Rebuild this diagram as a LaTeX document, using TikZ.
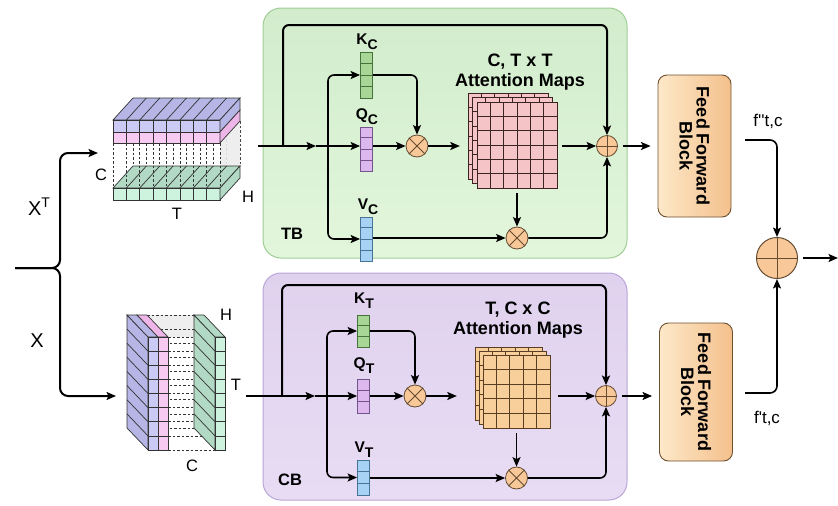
\documentclass[tikz,border=0pt]{standalone}
\usepackage{fontspec}
\setmainfont{Liberation Sans}
\usetikzlibrary{arrows.meta,calc}
\definecolor{pgT}{RGB}{210,236,204}
\definecolor{pgB}{RGB}{226,246,220}
\definecolor{pgD}{RGB}{160,205,150}
\definecolor{ppT}{RGB}{224,210,238}
\definecolor{ppB}{RGB}{232,220,244}
\definecolor{ppD}{RGB}{185,165,215}
\definecolor{kf}{RGB}{168,214,150}
\definecolor{kd}{RGB}{70,115,60}
\definecolor{qf}{RGB}{220,184,238}
\definecolor{qd}{RGB}{115,85,140}
\definecolor{vf}{RGB}{168,210,243}
\definecolor{vd}{RGB}{70,115,150}
\definecolor{cf}{RGB}{248,200,152}
\definecolor{cd}{RGB}{100,75,50}
\definecolor{pinkg}{RGB}{244,196,198}
\definecolor{pinkl}{RGB}{60,35,35}
\definecolor{orag}{RGB}{248,207,154}
\definecolor{oral}{RGB}{90,62,36}
\definecolor{ffL}{RGB}{253,232,200}
\definecolor{ffR}{RGB}{244,192,140}
\definecolor{ffD}{RGB}{110,80,48}
\definecolor{lavF}{RGB}{202,202,245}
\definecolor{lavT}{RGB}{182,182,230}
\definecolor{pnkF}{RGB}{247,202,242}
\definecolor{pnkT}{RGB}{238,182,232}
\definecolor{grnF}{RGB}{205,243,222}
\definecolor{grnT}{RGB}{178,217,196}
\definecolor{gryP}{RGB}{236,236,236}
\definecolor{edge}{RGB}{50,50,50}
\newcommand{\vcells}[3]{%
  \foreach \k in {1,...,#2}{%
    \draw[#3] ($(#1.north west)!{\k/(#2+1)}!(#1.south west)$) -- ($(#1.north east)!{\k/(#2+1)}!(#1.south east)$);}}
\newcommand{\sublab}[2]{#1\raisebox{-5pt}{\fontsize{14}{14}\selectfont\bfseries #2}}
\begin{document}
\begin{tikzpicture}[x=1pt,y=-1pt,
  ln/.style={line width=1.6pt, draw=black},
  arr/.style={ln, -{Stealth[length=9.5pt,width=8pt,inset=2pt]}},
  loopl/.style={arr, line width=2pt, rounded corners=6pt},
  vec/.style={rectangle, inner sep=0pt, minimum width=12pt, line width=0.8pt},
  opc/.style={circle, draw=cd, fill=cf, minimum size=22pt, inner sep=0pt, line width=0.8pt},
  crs/.style={draw=cd, line width=0.9pt},
  lab/.style={font=\fontsize{15.5}{15.5}\selectfont\bfseries, inner sep=0pt},
  big/.style={font=\fontsize{18}{20}\selectfont\bfseries, align=center, inner sep=0pt},
  dim/.style={font=\fontsize{16.5}{16.5}\selectfont, inner sep=0pt},
  ffbox/.style={rectangle, rounded corners=9pt, draw=ffD, line width=0.9pt, left color=ffL, right color=ffR, minimum width=73pt},
  fftext/.style={font=\fontsize{18}{17}\selectfont\bfseries, align=center, rotate=-90, inner sep=0pt},
  sl/.style={draw=edge, line width=0.7pt},
  dsh/.style={draw=black!80, dashed, dash pattern=on 2.5pt off 2pt, line width=0.7pt}
]
\useasboundingbox (0,0) rectangle (838,506);

% ---------- panels ----------
\draw[rounded corners=18pt, draw=pgD, line width=1pt, top color=pgT, bottom color=pgB] (263,8) rectangle (627,258);
\draw[rounded corners=18pt, draw=ppD, line width=1pt, top color=ppT, bottom color=ppB] (263,273) rectangle (627,500);

% ---------- 3D block X^T ----------
\foreach \k in {0,...,8} \draw[dsh] (133+\k*13.375,121) -- (133+\k*13.375,166);
\fill[gryP, opacity=0.9] (220,143) -- (240,121) -- (240,166) -- (220,188) -- cycle;
% green slab
\filldraw[sl, fill=grnT] (113,188) -- (220,188) -- (240,166) -- (133,166) -- cycle;
\foreach \k in {1,...,7} \draw[sl] (113+\k*13.375,188) -- (133+\k*13.375,166);
\filldraw[sl, fill=grnF] (113,188) rectangle (220,200);
\foreach \k in {1,...,7} \draw[sl] (113+\k*13.375,188) -- (113+\k*13.375,200);
\filldraw[sl, fill=grnT] (220,188) -- (240,166) -- (240,178) -- (220,200) -- cycle;
\foreach \k in {0,...,8} \draw[dsh] (113+\k*13.375,143) -- (113+\k*13.375,188);
% purple + pink slabs
\filldraw[sl, fill=lavT] (113,120) -- (220,120) -- (240,98) -- (133,98) -- cycle;
\foreach \k in {1,...,7} \draw[sl] (113+\k*13.375,120) -- (133+\k*13.375,98);
\filldraw[sl, fill=lavF] (113,120) rectangle (220,132);
\filldraw[sl, fill=pnkF] (113,132) rectangle (220,143);
\foreach \k in {1,...,7} \draw[sl] (113+\k*13.375,120) -- (113+\k*13.375,143);
\filldraw[sl, fill=lavT] (220,120) -- (240,98) -- (240,110) -- (220,132) -- cycle;
\filldraw[sl, fill=pnkT] (220,132) -- (240,110) -- (240,121) -- (220,143) -- cycle;
\node[dim] (lc1) at (101,175) {C};
\node[dim] (lh1) at (248,197) {H};
\node[dim] (lt1) at (177,214) {T};

% ---------- 3D block X ----------
\fill[gryP, opacity=0.9] (147,315) -- (194,315) -- (215,337) -- (168,337) -- cycle;
\foreach \k in {0,...,8} \draw[dsh] (147,315+\k*14.125) -- (194,315+\k*14.125);
\foreach \k in {0,...,8} \draw[dsh] (168,337+\k*14.125) -- (215,337+\k*14.125);
% purple / pink
\filldraw[sl, fill=lavT] (148,337) -- (127,315) -- (127,428) -- (148,450) -- cycle;
\foreach \k in {1,...,7} \draw[sl] (148,337+\k*14.125) -- (127,315+\k*14.125);
\filldraw[sl, fill=lavT] (148,337) -- (158,337) -- (137,315) -- (127,315) -- cycle;
\filldraw[sl, fill=pnkT] (158,337) -- (168,337) -- (147,315) -- (137,315) -- cycle;
\filldraw[sl, fill=lavF] (148,337) rectangle (158,450);
\filldraw[sl, fill=pnkF] (158,337) rectangle (168,450);
\foreach \k in {1,...,7} \draw[sl] (148,337+\k*14.125) -- (168,337+\k*14.125);
% green
\filldraw[sl, fill=grnT] (215,337) -- (194,315) -- (194,428) -- (215,450) -- cycle;
\foreach \k in {1,...,7} \draw[sl] (215,337+\k*14.125) -- (194,315+\k*14.125);
\filldraw[sl, fill=grnT] (215,337) -- (225,337) -- (204,315) -- (194,315) -- cycle;
\filldraw[sl, fill=grnF] (215,337) rectangle (225,450);
\foreach \k in {1,...,7} \draw[sl] (215,337+\k*14.125) -- (225,337+\k*14.125);
\node[dim] (lh2) at (226,315) {H};
\node[dim] (lt2) at (236,385) {T};
\node[dim] (lc2) at (192,466) {C};

% ---------- input brace ----------
\coordinate (inL) at (15,268);
\coordinate (brc) at (60,268);
\coordinate (blk1in) at (98,153);
\coordinate (blk2in) at (116,396);
\draw[arr, line width=2pt, rounded corners=8pt] (inL) -- (brc) |- (blk1in);
\draw[arr, line width=2pt, rounded corners=8pt] (inL) -- (brc) |- (blk2in);
\node[font=\fontsize{20}{20}\selectfont, inner sep=0pt] (xt) at (39,207) {X\raisebox{8pt}{\fontsize{14}{14}\selectfont T}};
\node[font=\fontsize{20}{20}\selectfont, inner sep=0pt] (xx) at (37,341) {X};

% ---------- TB panel ----------
\coordinate (in1) at (258,146);
\coordinate (j1) at (283,146);
\coordinate (a1) at (316,146);
\coordinate (b1) at (328,146);
\coordinate (lp1) at (283,25);
\node[vec, fill=kf, draw=kd, minimum height=46pt] (kc) at (366.5,75) {};
\vcells{kc}{3}{kd, line width=0.8pt}
\node[vec, fill=qf, draw=qd, minimum height=44pt] (qc) at (366.5,149) {};
\vcells{qc}{3}{qd, line width=0.8pt}
\node[vec, fill=vf, draw=vd, minimum height=44pt] (vc) at (366.5,239) {};
\vcells{vc}{3}{vd, line width=0.8pt}
\node[lab] (kcl) at (367,42) {\sublab{K}{C}};
\node[lab] (qcl) at (367,117) {\sublab{Q}{C}};
\node[lab] (vcl) at (368,207) {\sublab{V}{C}};
\node[opc] (m1) at (417,146) {};
\draw[crs] (m1.north east) -- (m1.south west) (m1.north west) -- (m1.south east);
\foreach \o in {9,4.5,0}{
  \filldraw[fill=pinkg, draw=pinkl, line width=0.9pt] (477-\o,102-\o) rectangle ++(80,86);
  \foreach \i in {1,...,5}{
    \draw[pinkl, line width=0.9pt] (477-\o+\i*13.333,102-\o) -- ++(0,86);
    \draw[pinkl, line width=0.9pt] (477-\o,102-\o+\i*14.333) -- ++(80,0);}
}
\node[inner sep=0pt, minimum width=80pt, minimum height=86pt] (att1) at (517,145) {};
\node[big] (att1l) at (520,72) {C, T x T\\Attention Maps};
\node[opc, minimum size=21pt] (p1) at (607,146) {};
\draw[crs] (p1.north) -- (p1.south) (p1.west) -- (p1.east);
\node[opc] (m2) at (517,238) {};
\draw[crs] (m2.north east) -- (m2.south west) (m2.north west) -- (m2.south east);
\node[font=\fontsize{16.5}{16.5}\selectfont\bfseries, inner sep=0pt] (tb) at (292,234) {TB};

\draw[ln] (in1) -- (j1);
\draw[arr] (j1) -- (a1);
\draw[arr] (a1) -- (qc.west |- a1);
\draw[loopl] (j1) -- (lp1) -| (p1.north);
\draw[arr, rounded corners=6pt] (b1) |- (kc.west);
\draw[arr, rounded corners=6pt] (b1) |- (vc.west);
\draw[arr, rounded corners=6pt] (kc.east) -| (m1.north);
\draw[arr] (qc.east |- m1.west) -- (m1.west);
\draw[arr, shorten >=17pt] (m1.east) -- (att1.west |- m1.east);
\draw[arr, shorten <=5pt] (att1.east |- p1.west) -- (p1.west);
\draw[arr, shorten <=5pt] (att1.south) -- (m2.north);
\draw[arr] (vc.east |- m2.west) -- (m2.west);
\draw[arr, rounded corners=6pt] (m2.east) -| (p1.south);

% ---------- CB panel ----------
\coordinate (in2) at (246,396);
\coordinate (j2) at (282,396);
\coordinate (a2) at (315,396);
\coordinate (b2) at (327,396);
\coordinate (lp2) at (282,285);
\node[vec, fill=kf, draw=kd, minimum height=32pt] (kt) at (363.5,331) {};
\vcells{kt}{2}{kd, line width=0.8pt}
\node[vec, fill=qf, draw=qd, minimum height=34pt] (qt) at (363.5,396) {};
\vcells{qt}{2}{qd, line width=0.8pt}
\node[vec, fill=vf, draw=vd, minimum height=35pt] (vt) at (363.5,477.5) {};
\vcells{vt}{2}{vd, line width=0.8pt}
\node[lab] (ktl) at (364,301) {\sublab{K}{T}};
\node[lab] (qtl) at (364,366) {\sublab{Q}{T}};
\node[lab] (vtl) at (364,450) {\sublab{V}{T}};
\node[opc] (m3) at (415,396) {};
\draw[crs] (m3.north east) -- (m3.south west) (m3.north west) -- (m3.south east);
\foreach \o in {8,4,0}{
  \filldraw[fill=orag, draw=oral, line width=0.9pt] (483-\o,355-\o) rectangle ++(67,73);
  \foreach \i in {1,...,4}{
    \draw[oral, line width=0.9pt] (483-\o+\i*13.4,355-\o) -- ++(0,73);
    \draw[oral, line width=0.9pt] (483-\o,355-\o+\i*14.6) -- ++(67,0);}
}
\node[inner sep=0pt, minimum width=67pt, minimum height=73pt] (att2) at (516.5,391.5) {};
\node[big] (att2l) at (518,320) {T, C x C\\Attention Maps};
\node[opc, minimum size=21pt] (p2) at (606,396) {};
\draw[crs] (p2.north) -- (p2.south) (p2.west) -- (p2.east);
\node[opc] (m4) at (516.5,478) {};
\draw[crs] (m4.north east) -- (m4.south west) (m4.north west) -- (m4.south east);
\node[font=\fontsize{16.5}{16.5}\selectfont\bfseries, inner sep=0pt] (cb) at (290,480) {CB};

\draw[ln] (in2) -- (j2);
\draw[arr] (j2) -- (a2);
\draw[arr] (a2) -- (qt.west |- a2);
\draw[loopl] (j2) -- (lp2) -| (p2.north);
\draw[arr, rounded corners=6pt] (b2) |- (kt.west);
\draw[arr, rounded corners=6pt] (b2) |- (vt.west);
\draw[arr, rounded corners=6pt] (kt.east) -| (m3.north);
\draw[arr] (qt.east |- m3.west) -- (m3.west);
\draw[arr, shorten >=26pt] (m3.east) -- (att2.west |- m3.east);
\draw[arr, shorten <=8pt] (att2.east |- p2.west) -- (p2.west);
\draw[arr, shorten <=5pt] (att2.south) -- (m4.north);
\draw[arr] (vt.east |- m4.west) -- (m4.west);
\draw[arr, rounded corners=6pt] (m4.east) -| (p2.south);

% ---------- feed forward + sum ----------
\node[ffbox, minimum height=142pt] (ff1) at (694.5,146) {};
\node[fftext] (ff1t) at (ff1) {Feed Forward\\Block};
\node[ffbox, minimum height=138pt] (ff2) at (696,392) {};
\node[fftext] (ff2t) at (ff2) {Feed Forward\\Block};
\draw[arr, shorten <=5pt, shorten >=7pt] (p1.east) -- (ff1.west |- p1.east);
\draw[arr, shorten <=5pt, shorten >=7pt] (p2.east) -- (ff2.west |- p2.east);

\node[opc, minimum size=41pt, line width=1pt] (sum) at (777,258) {};
\draw[crs, line width=1pt] (sum.north) -- (sum.south) (sum.west) -- (sum.east);
\coordinate (f2s) at (745,140);
\coordinate (f1s) at (745,393);
\coordinate (outp) at (838,258);
\draw[arr, rounded corners=7pt] (f2s) -| (sum.north);
\draw[arr, rounded corners=7pt] (f1s) -| (sum.south);
\draw[arr, shorten <=5pt] (sum.east) -- (outp);
\node[font=\fontsize{17}{17}\selectfont, inner sep=0pt] (fpp) at (768,121) {f\textquotesingle\textquotesingle t,c};
\node[font=\fontsize{17}{17}\selectfont, inner sep=0pt] (fp) at (767,418) {f\textquotesingle t,c};
\end{tikzpicture}
\end{document}
